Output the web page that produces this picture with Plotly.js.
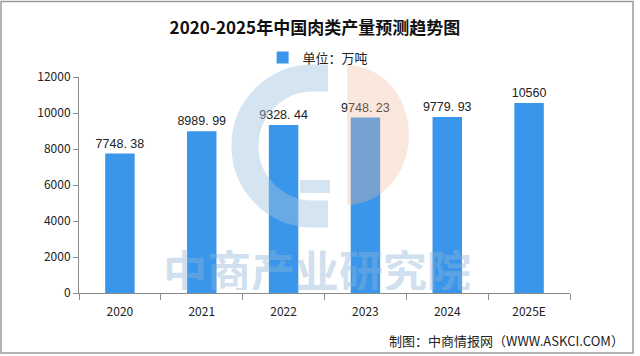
<!DOCTYPE html>
<html>
<head>
<meta charset="utf-8">
<script src="https://cdn.plot.ly/plotly-3.0.1.min.js"></script>
<style>html,body{margin:0;padding:0;background:#fff;}#chart{width:640px;height:356px;}</style>
</head>
<body>
<div id="chart"></div>
<script>
const years = ['2020', '2021', '2022', '2023', '2024', '2025E'];
const production = [7748.38, 8989.99, 9328.44, 9748.23, 9779.93, 10560];
const valueLabels = ['7748. 38', '8989. 99', '9328. 44', '9748. 23', '9779. 93', '10560'];
const yTicks = [0, 2000, 4000, 6000, 8000, 10000, 12000];
const seriesName = '单位：万吨';
const chartTitle = '2020-2025年中国肉类产量预测趋势图';
const sourceText = '制图：中商情报网（WWW.ASKCI.COM）';
const watermarkText = '中商产业研究院';

const font = '"Noto Sans CJK SC", "Noto Sans", sans-serif';

const trace = {
  type: 'bar',
  x: years,
  y: production,
  name: seriesName,
  text: valueLabels,
  textposition: 'outside',
  constraintext: 'none',
  cliponaxis: false,
  textfont: {family: '"Liberation Sans", Arial, sans-serif', size: 12.5, color: '#222'},
  marker: {color: '#3a96ea'},
  showlegend: true,
  hoverinfo: 'x+y'
};

const layout = {
  width: 640,
  height: 356,
  margin: {l: 79, r: 70, t: 77, b: 63},
  paper_bgcolor: '#ffffff',
  plot_bgcolor: 'rgba(0,0,0,0)',
  font: {family: font, color: '#222', size: 12},
  title: {
    text: '<b>' + chartTitle + '</b>',
    font: {family: font, size: 17, color: '#111'},
    x: 0.492, xanchor: 'center',
    y: 0.921, yanchor: 'middle'
  },
  bargap: 0.64,
  showlegend: true,
  legend: {
    orientation: 'h',
    x: 0.487, xanchor: 'center',
    y: 1.09, yanchor: 'middle',
    font: {family: font, size: 13, color: '#222'},
    itemwidth: 30,
    bgcolor: 'rgba(0,0,0,0)'
  },
  xaxis: {
    type: 'category',
    showgrid: false,
    showline: true,
    linecolor: '#8a8a8a',
    linewidth: 1,
    ticks: 'outside',
    tickson: 'boundaries',
    ticklen: 6,
    tickcolor: '#8a8a8a',
    ticklabelstandoff: 8,
    tickfont: {family: font, size: 12, color: '#222'},
    zeroline: false
  },
  yaxis: {
    range: [0, 12000],
    tickvals: yTicks,
    ticktext: yTicks.map(String),
    showgrid: false,
    showline: true,
    linecolor: '#8a8a8a',
    linewidth: 1,
    ticks: 'outside',
    ticklen: 5,
    tickcolor: '#8a8a8a',
    tickfont: {family: font, size: 12, color: '#222'},
    zeroline: false
  },
  shapes: [
    {
      type: 'rect', xref: 'paper', yref: 'paper', layer: 'below',
      x0: -0.1588, x1: 1.1283, y0: -0.2778, y1: 1.3495,
      line: {color: '#9a9a9a', width: 1.5}, fillcolor: 'rgba(0,0,0,0)'
    },
    {
      type: 'path', xref: 'paper', yref: 'paper', layer: 'above',
      xsizemode: 'pixel', ysizemode: 'pixel', xanchor: 0.4766, yanchor: 0.6806,
      path: 'M15,68 L0,68 C-37.6,68 -68,37.6 -68,0 C-68,-37.6 -37.6,-68 0,-68 L15,-68',
      line: {color: 'rgba(160,195,222,0.45)', width: 27}
    },
    {
      type: 'path', xref: 'paper', yref: 'paper', layer: 'above',
      xsizemode: 'pixel', ysizemode: 'pixel', xanchor: 0.4766, yanchor: 0.6806,
      path: 'M-13,-34 L17,-34 L17,-47 L-13,-47 Z',
      fillcolor: 'rgba(160,195,222,0.45)', line: {width: 0}
    },
    {
      type: 'path', xref: 'paper', yref: 'paper', layer: 'above',
      xsizemode: 'pixel', ysizemode: 'pixel', xanchor: 0.5458, yanchor: 0.7315,
      path: 'M0,70 C34,70 62,38.7 62,0 C62,-38.7 34,-70 0,-70 Z',
      fillcolor: 'rgba(240,185,155,0.33)', line: {width: 0}
    }
  ],
  annotations: [
    {
      text: watermarkText, xref: 'paper', yref: 'paper',
      x: 0.484, y: 0.112, xanchor: 'center', yanchor: 'middle', showarrow: false,
      height: 42, borderpad: 0,
      font: {family: font, size: 44, color: 'rgba(140,180,215,0.42)', weight: 'bold'}
    },
    {
      text: sourceText, xref: 'paper', yref: 'paper',
      x: 1.114, y: -0.218, xanchor: 'right', yanchor: 'middle', showarrow: false,
      font: {family: font, size: 13, color: '#222'}
    }
  ]
};

Plotly.newPlot('chart', [trace], layout, {displayModeBar: false, staticPlot: true});
</script>
</body>
</html>
